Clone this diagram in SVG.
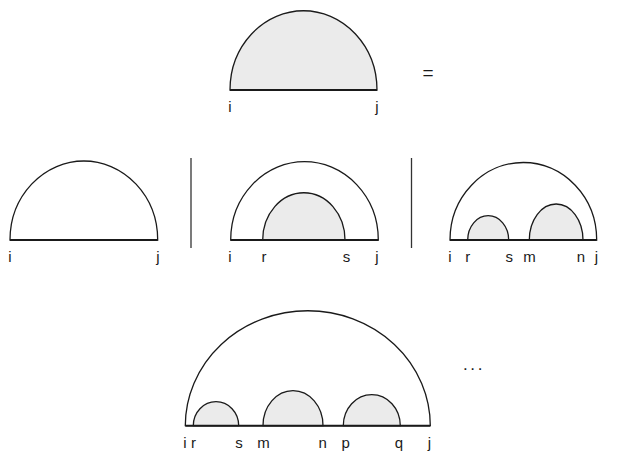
<svg xmlns="http://www.w3.org/2000/svg" width="629" height="454" viewBox="0 0 629 454">
<style>
.arc{stroke:#1a1a1a;stroke-width:1.3;fill:#fff}
.sh{stroke:#1a1a1a;stroke-width:1.3;fill:#ebebeb}
.base{stroke:#1a1a1a;stroke-width:2;fill:none}
.bar{stroke:#333;stroke-width:1.3}
text{font-family:"Liberation Sans",Arial,sans-serif;font-size:15px;fill:#1a1a1a;text-anchor:middle}
</style>
<rect width="629" height="454" fill="#fff"/>
<g id="top">
<path class="sh" d="M230 90 A73.5 79.3 0 0 1 377 90 Z"/>
<line class="base" x1="230" y1="90" x2="377" y2="90"/>
<text x="230" y="112">i</text><text x="377" y="112">j</text>
</g>
<g id="equals"><text x="428" y="79" style="font-size:19px">=</text></g>
<g id="row2-left">
<path class="arc" d="M10 240 A73.85 79 0 0 1 157.7 240 Z"/>
<line class="base" x1="10" y1="240" x2="157.7" y2="240"/>
<text x="10" y="262">i</text><text x="158" y="262">j</text>
</g>
<g id="row2-mid">
<path class="arc" d="M230.7 240 A73.8 78.3 0 0 1 378.3 240 Z"/>
<path class="sh" d="M262.7 240 A41.15 47.3 0 0 1 345 240 Z"/>
<line class="base" x1="230.7" y1="240" x2="378.3" y2="240"/>
<text x="230" y="262">i</text><text x="264" y="262">r</text><text x="346.5" y="262">s</text><text x="377" y="262">j</text>
</g>
<g id="row2-right">
<path class="arc" d="M450 240 A73.35 77.5 0 0 1 596.7 240 Z"/>
<path class="sh" d="M467.7 240 A20.5 24.3 0 0 1 508.7 240 Z"/>
<path class="sh" d="M529.3 240 A26.85 36 0 0 1 583 240 Z"/>
<line class="base" x1="450" y1="240" x2="596.7" y2="240"/>
<text x="450" y="262">i</text><text x="467.7" y="262">r</text><text x="509.3" y="262">s</text><text x="529.5" y="262">m</text><text x="581" y="262">n</text><text x="596.5" y="262">j</text>
</g>
<g id="bottom">
<path class="arc" d="M185.3 425.7 A122.5 115 0 0 1 430.3 425.7 Z"/>
<path class="sh" d="M193.3 425.7 A22.7 24 0 0 1 238.7 425.7 Z"/>
<path class="sh" d="M263 425.7 A30 35 0 0 1 323 425.7 Z"/>
<path class="sh" d="M343.3 425.7 A28.5 31 0 0 1 400.3 425.7 Z"/>
<line class="base" x1="185.3" y1="425.7" x2="430.3" y2="425.7"/>
<text x="185" y="448">i</text><text x="193.5" y="448">r</text><text x="239" y="448">s</text><text x="263.5" y="448">m</text><text x="322.7" y="448">n</text><text x="345.7" y="448">p</text><text x="399" y="448">q</text><text x="429.5" y="448">j</text>
</g>
<g id="ellipsis"><text x="474" y="370" style="font-size:17px;letter-spacing:2.6px">...</text></g>
<g id="connectors">
<line class="bar" x1="191" y1="158" x2="191" y2="248"/>
<line class="bar" x1="411.5" y1="158" x2="411.5" y2="248"/>
</g>
</svg>
